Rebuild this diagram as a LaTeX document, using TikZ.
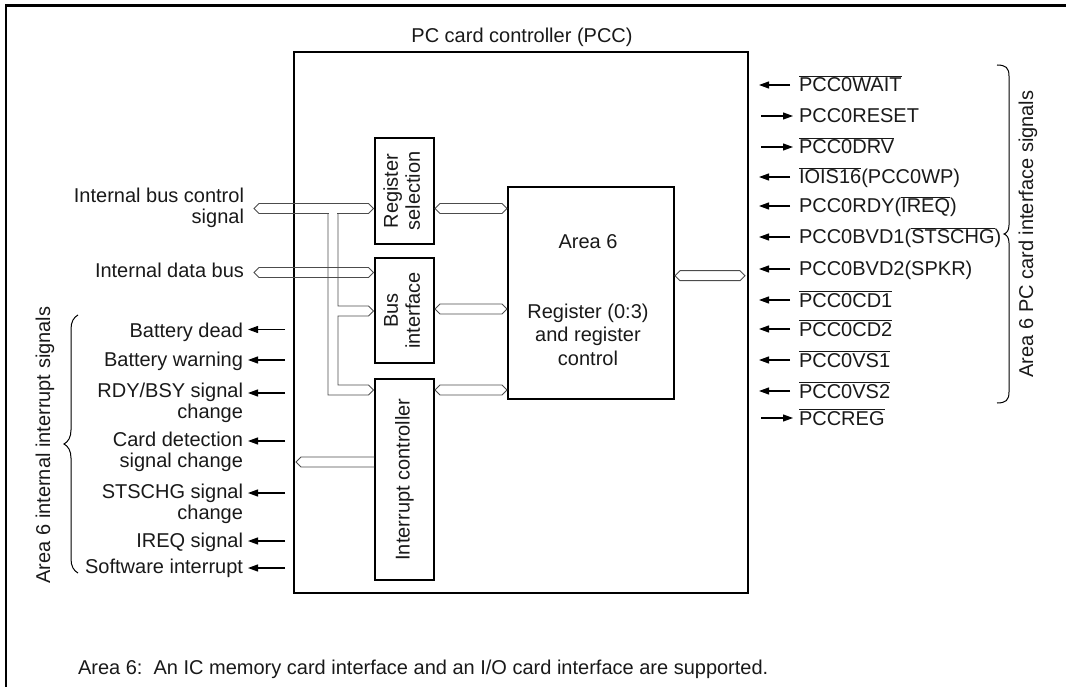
\documentclass[tikz,border=0pt]{standalone}
\usepackage{fontspec}
\setmainfont{Liberation Sans}
\usepackage{graphicx}
\usetikzlibrary{arrows.meta,decorations.pathreplacing,calc}
\newcommand{\ovl}[1]{\leavevmode\vbox{\hrule height 0.9pt\kern 1.6pt\hbox{#1}}}
\newcommand{\rlines}[1]{\vtop{\halign{\hfil##\cr#1\crcr}}}
\newcommand{\clines}[1]{\begin{tabular}{@{}c@{}}#1\end{tabular}}
\newcommand{\busLR}[2]{\draw[bus] let \p1=#1, \p2=#2 in (\x1,\y1) -- (\x1+5pt,\y1+5pt) -- (\x2-5pt,\y2+5pt) -- (\x2,\y2) -- (\x2-5pt,\y2-5pt) -- (\x1+5pt,\y1-5pt) -- cycle;}
\tikzset{
 blk/.style={draw=black, line width=1.3pt, inner sep=0pt},
 bus/.style={draw=black!70, line width=0.9pt, line join=miter},
 sigarr/.style={line width=1.1pt, -{Triangle[length=10pt,width=7pt]}},
 lbrace/.style={decorate, decoration={brace, amplitude=14pt}, line width=1pt},
 rbrace/.style={line width=1pt},
 lbl/.style={anchor=base east},
 rlbl/.style={anchor=base west}
}
\begin{document}
\begin{tikzpicture}[x=1pt,y=-1pt, font=\fontsize{20}{21}\selectfont,
  every node/.style={inner sep=0pt, outer sep=0pt, text=black!90}]
\useasboundingbox (0,0) rectangle (1066,687);
% frame
\draw[line width=2.4pt] (5.7,687) -- (5.7,5.7) -- (1066,5.7);

% levels
\coordinate (yA) at (0,208.5);
\coordinate (yD) at (0,272.5);
\coordinate (yB) at (0,309);
\coordinate (yBb) at (0,311);
\coordinate (yC) at (0,390);
\coordinate (yO) at (0,275.7);
\coordinate (yI) at (0,462);
\coordinate (ibc) at (254,208.5);
\coordinate (dbus) at (254,272.5);
\coordinate (icout) at (296,462);
\coordinate (a6out) at (745,275.7);

% boxes
\node[blk, minimum width=454pt, minimum height=541pt] (pcc) at (521,322.5) {};
\node[anchor=base] (title) at (522,42.5) {PC card controller (PCC)};
\node[blk, minimum width=59pt, minimum height=106pt] (rs) at (404.5,191) {\rotatebox{90}{\fontsize{20}{22}\selectfont\clines{Register\\selection}}};
\node[blk, minimum width=59pt, minimum height=105pt] (bi) at (404.5,310.5) {\rotatebox{90}{\fontsize{20}{22}\selectfont\clines{Bus\\interface}}};
\node[blk, minimum width=59pt, minimum height=201pt] (ic) at (404.5,479.5) {\rotatebox{90}{Interrupt controller}};
\node[blk, minimum width=166pt, minimum height=212pt] (a6) at (591,293) {};
\node[anchor=base] (a6t) at (588,249) {Area 6};
\node (a6r) at (588,337) {\fontsize{20}{23.5}\selectfont\clines{Register (0:3)\\and register\\control}};

% buses
\busLR{(ibc)}{([xshift=-1.5pt]rs.west |- yA)}
\fill[white] (328.6,212.3) rectangle (337.4,214.7);
\busLR{(dbus)}{([xshift=-1.5pt]bi.west |- yD)}
\draw[bus] let \p1=([xshift=-1.5pt]bi.west |- yBb), \p2=([xshift=-1.5pt]ic.west |- yC) in
 (338,213.5) -- (338,306) -- (\x1-5pt,\y1+5pt) -- (\x1,\y1) -- (\x1-5pt,\y1-5pt) -- (338,316)
 -- (338,385) -- (\x2-5pt,\y2+5pt) -- (\x2,\y2) -- (\x2-5pt,\y2-5pt) -- (328,395) -- (328,213.5);
\busLR{([xshift=1pt]rs.east |- yA)}{([xshift=-1pt]a6.west |- yA)}
\busLR{([xshift=1pt]bi.east |- yB)}{([xshift=-1pt]a6.west |- yB)}
\busLR{([xshift=1pt]ic.east |- yC)}{([xshift=-1pt]a6.west |- yC)}
\busLR{([xshift=1pt]a6.east |- yO)}{(a6out)}
\draw[bus] let \p1=([xshift=-0.6pt]ic.west |- yI), \p2=(icout) in
 (\x1,\y1+5pt) -- (\x2+5pt,\y2+5pt) -- (\x2,\y2) -- (\x2+5pt,\y2-5pt) -- (\x1,\y1-5pt);

% left labels
\node[lbl] (ibcl) at (244,203) {\rlines{Internal bus control\cr signal}};
\node[lbl] (dbl) at (244,277) {Internal data bus};
\node[lbl] (l1) at (243,337) {Battery dead};
\node[lbl] (l2) at (243,366) {Battery warning};
\node[lbl] (l3) at (243,397) {\rlines{RDY/BSY signal\cr change}};
\node[lbl] (l4) at (243,446) {\rlines{Card detection\cr signal change}};
\node[lbl] (l5) at (243,498) {\rlines{STSCHG signal\cr change}};
\node[lbl] (l6) at (243,547) {IREQ signal};
\node[lbl] (l7) at (243,573) {Software interrupt};
\foreach \n/\y in {l1/329.5, l2/360, l3/393, l4/441, l5/493, l6/541, l7/568}{
  \draw[sigarr] ([xshift=-9pt]pcc.west |- 0,\y) -- ([xshift=5pt]\n.east |- 0,\y);
}
\draw[lbrace] (78,573) -- (78,315);
\node[rotate=90] (lbt) at (45,445) {Area 6 internal interrupt signals};

% right labels
\node[rlbl] (r1) at (799,92) {\ovl{PCC0WAIT}};
\node[rlbl] (r2) at (799,123) {PCC0RESET};
\node[rlbl] (r3) at (799,154) {\ovl{PCC0DRV}};
\node[rlbl] (r4) at (799,184) {\ovl{IOIS16}(PCC0WP)};
\node[rlbl] (r5) at (799,213) {PCC0RDY(\ovl{IREQ})};
\node[rlbl] (r6) at (799,244) {PCC0BVD1(\ovl{STSCHG})};
\node[rlbl] (r7) at (799,276) {PCC0BVD2(SPKR)};
\node[rlbl] (r8) at (799,307) {\ovl{PCC0CD1}};
\node[rlbl] (r9) at (799,336) {\ovl{PCC0CD2}};
\node[rlbl] (r10) at (799,367) {\ovl{PCC0VS1}};
\node[rlbl] (r11) at (799,398) {\ovl{PCC0VS2}};
\node[rlbl] (r12) at (799,425) {\ovl{PCCREG}};
\foreach \n/\y in {r1/85, r4/177, r5/206, r6/237, r7/269, r8/300, r9/329, r10/360, r11/391}{
  \draw[sigarr] ([xshift=-9pt]\n.west |- 0,\y) -- ([xshift=11pt]pcc.east |- 0,\y);
}
\foreach \n/\y in {r2/116, r3/147, r12/418}{
  \draw[sigarr] ([xshift=13pt]pcc.east |- 0,\y) -- ([xshift=-6pt]\n.west |- 0,\y);
}
\draw[rbrace] (997,65) .. controls (1006,65) and (1009,68) .. (1009,76) -- (1009,225)
  .. controls (1009,230) and (1007,233) .. (1004,234)
  .. controls (1007,235) and (1009,238) .. (1009,243) -- (1009,392)
  .. controls (1009,400) and (1006,403) .. (997,403);
\node[rotate=90] (rbt) at (1028,234) {Area 6 PC card interface signals};

% note
\node[anchor=base west] (note) at (78,674) {Area 6:\ \ An IC memory card interface and an I/O card interface are supported.};
\end{tikzpicture}
\end{document}
